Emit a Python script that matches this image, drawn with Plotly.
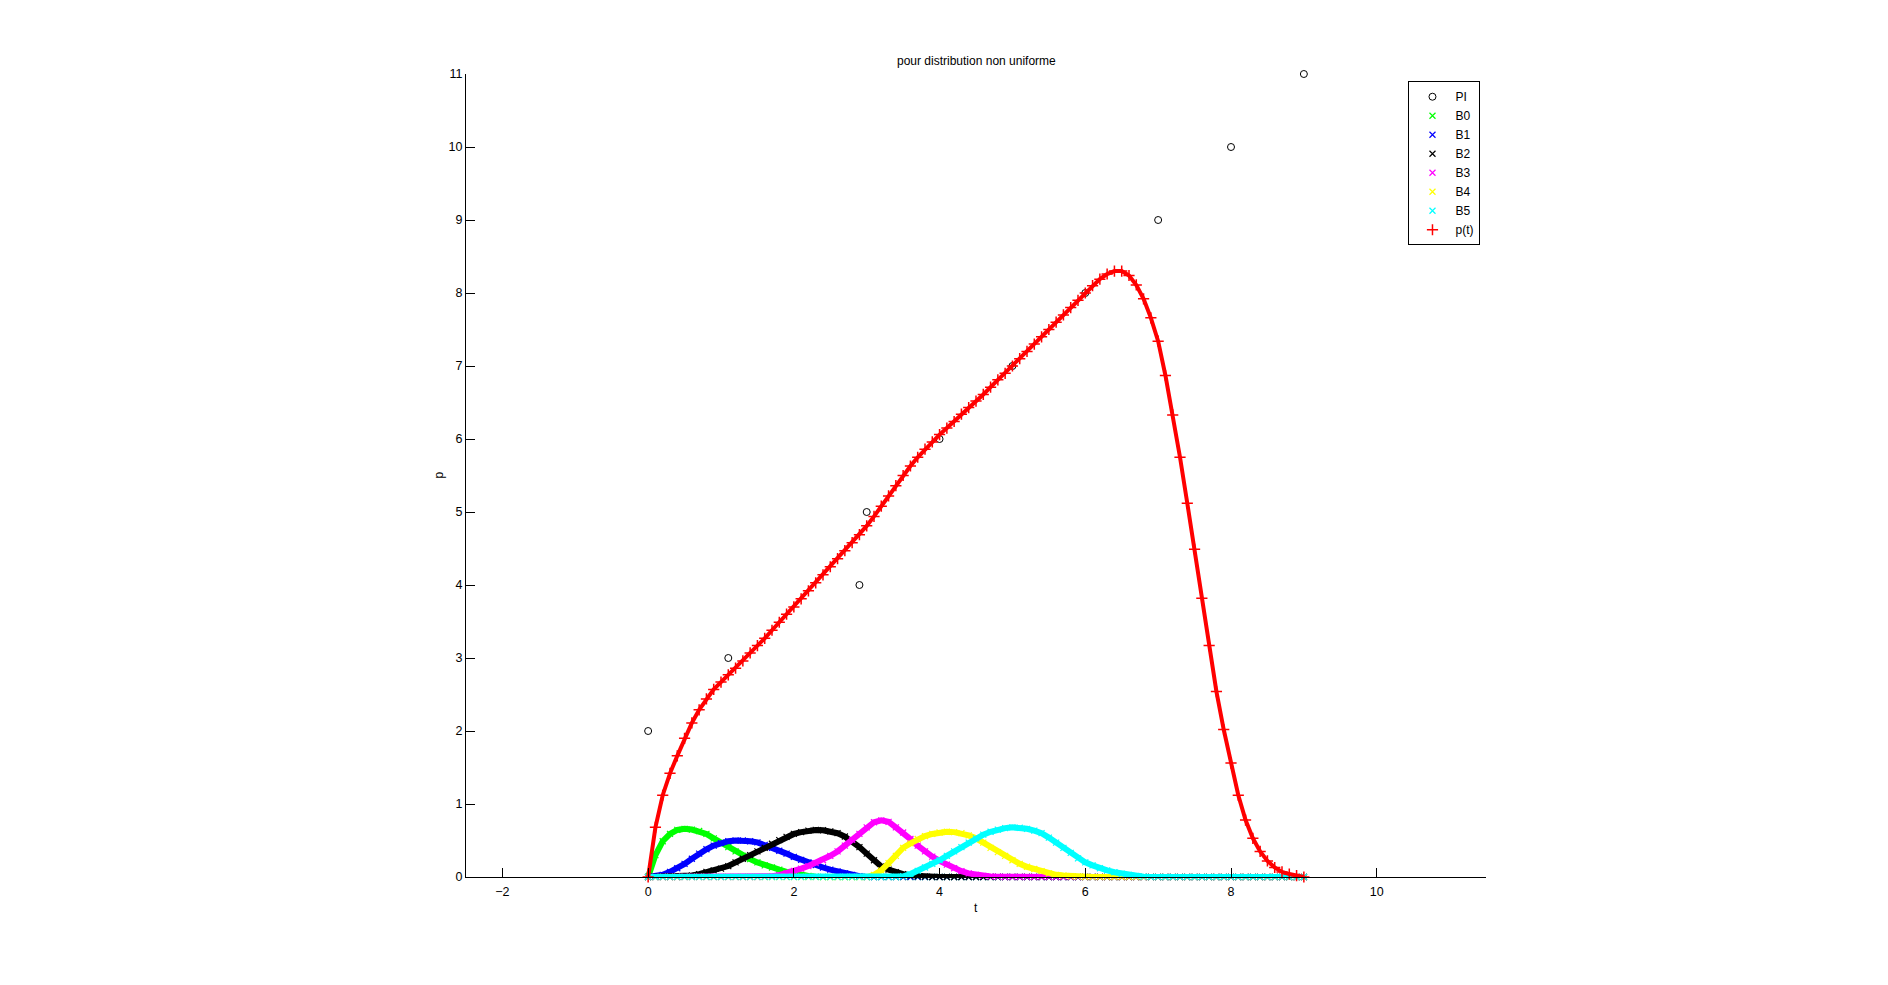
import plotly.graph_objects as go

# ---------------- data ----------------
T = [0.0, 0.1, 0.2, 0.3, 0.4, 0.5, 0.6, 0.7, 0.8, 0.9,
     1.0, 1.1, 1.2, 1.3, 1.4, 1.5, 1.6, 1.7, 1.8, 1.9,
     2.0, 2.1, 2.2, 2.3, 2.4, 2.5, 2.6, 2.7, 2.8, 2.9,
     3.0, 3.1, 3.2, 3.3, 3.4, 3.5, 3.6, 3.7, 3.8, 3.9,
     4.0, 4.1, 4.2, 4.3, 4.4, 4.5, 4.6, 4.7, 4.8, 4.9,
     5.0, 5.1, 5.2, 5.3, 5.4, 5.5, 5.6, 5.7, 5.8, 5.9,
     6.0, 6.1, 6.2, 6.3, 6.4, 6.5, 6.6, 6.7, 6.8, 6.9,
     7.0, 7.1, 7.2, 7.3, 7.4, 7.5, 7.6, 7.7, 7.8, 7.9,
     8.0, 8.1, 8.2, 8.3, 8.4, 8.5, 8.6, 8.7, 8.8, 8.9,
     9.0]

PI_x = [0, 1.1, 2.9, 3, 4, 5, 6, 7, 8, 9]
PI_y = [2, 3, 4, 5, 6, 7, 8, 9, 10, 11]

B0 = [0.00, 0.30, 0.49, 0.59, 0.645, 0.66, 0.65, 0.63, 0.59, 0.53,
      0.47, 0.41, 0.35, 0.29, 0.245, 0.20, 0.16, 0.13, 0.10, 0.07,
      0.045, 0.03, 0.015, 0.005, 0, 0, 0, 0, 0, 0,
      0, 0, 0, 0, 0, 0, 0, 0, 0, 0,
      0, 0, 0, 0, 0, 0, 0, 0, 0, 0,
      0, 0, 0, 0, 0, 0, 0, 0, 0, 0,
      0, 0, 0, 0, 0, 0, 0, 0, 0, 0,
      0, 0, 0, 0, 0, 0, 0, 0, 0, 0,
      0, 0, 0, 0, 0, 0, 0, 0, 0, 0,
      0]

B1 = [0.00, 0.01, 0.03, 0.07, 0.12, 0.18, 0.25, 0.32, 0.38, 0.43,
      0.465, 0.49, 0.50, 0.50, 0.49, 0.475, 0.44, 0.40, 0.36, 0.32,
      0.275, 0.235, 0.20, 0.165, 0.13, 0.10, 0.075, 0.05, 0.03, 0.01,
      0, 0, 0, 0, 0, 0, 0, 0, 0, 0,
      0, 0, 0, 0, 0, 0, 0, 0, 0, 0,
      0, 0, 0, 0, 0, 0, 0, 0, 0, 0,
      0, 0, 0, 0, 0, 0, 0, 0, 0, 0,
      0, 0, 0, 0, 0, 0, 0, 0, 0, 0,
      0, 0, 0, 0, 0, 0, 0, 0, 0, 0,
      0]

B2 = [0, 0, 0, 0, 0, 0.005, 0.02, 0.04, 0.07, 0.09,
      0.115, 0.15, 0.20, 0.25, 0.30, 0.35, 0.40, 0.455, 0.505, 0.55,
      0.59, 0.615, 0.635, 0.645, 0.64, 0.625, 0.60, 0.555, 0.49, 0.41,
      0.32, 0.23, 0.145, 0.10, 0.065, 0.04, 0.02, 0.01, 0.005, 0,
      0, 0, 0, 0, 0, 0, 0, 0, 0, 0,
      0, 0, 0, 0, 0, 0, 0, 0, 0, 0,
      0, 0, 0, 0, 0, 0, 0, 0, 0, 0,
      0, 0, 0, 0, 0, 0, 0, 0, 0, 0,
      0, 0, 0, 0, 0, 0, 0, 0, 0, 0,
      0]

B3 = [0, 0, 0, 0, 0, 0, 0, 0, 0, 0,
      0, 0, 0, 0, 0, 0, 0.003, 0.01, 0.025, 0.05,
      0.085, 0.115, 0.15, 0.19, 0.23, 0.29, 0.35, 0.43, 0.51, 0.59,
      0.68, 0.75, 0.775, 0.755, 0.68, 0.61, 0.52, 0.43, 0.35, 0.28,
      0.22, 0.17, 0.12, 0.08, 0.05, 0.03, 0.015, 0.007, 0.003, 0,
      0, 0, 0, 0, 0, 0, 0, 0, 0, 0,
      0, 0, 0, 0, 0, 0, 0, 0, 0, 0,
      0, 0, 0, 0, 0, 0, 0, 0, 0, 0,
      0, 0, 0, 0, 0, 0, 0, 0, 0, 0,
      0]

B4 = [0, 0, 0, 0, 0, 0, 0, 0, 0, 0,
      0, 0, 0, 0, 0, 0, 0, 0, 0, 0,
      0, 0, 0, 0, 0, 0, 0, 0, 0, 0,
      0, 0.03, 0.09, 0.19, 0.29, 0.40, 0.46, 0.52, 0.56, 0.59,
      0.61, 0.62, 0.615, 0.60, 0.57, 0.53, 0.47, 0.40, 0.34, 0.29,
      0.23, 0.18, 0.14, 0.11, 0.08, 0.05, 0.03, 0.02, 0.01, 0.005,
      0, 0, 0, 0, 0, 0, 0, 0, 0, 0,
      0, 0, 0, 0, 0, 0, 0, 0, 0, 0,
      0, 0, 0, 0, 0, 0, 0, 0, 0, 0,
      0]

B5 = [0, 0, 0, 0, 0, 0, 0, 0, 0, 0,
      0, 0, 0, 0, 0, 0, 0, 0, 0, 0,
      0, 0, 0, 0, 0, 0, 0, 0, 0, 0,
      0, 0, 0, 0, 0, 0.01, 0.04, 0.085, 0.13, 0.18,
      0.23, 0.29, 0.35, 0.41, 0.47, 0.53, 0.58, 0.62, 0.65, 0.67,
      0.68, 0.675, 0.66, 0.635, 0.60, 0.54, 0.47, 0.40, 0.33, 0.255,
      0.20, 0.16, 0.12, 0.09, 0.065, 0.045, 0.03, 0.015, 0.005, 0,
      0, 0, 0, 0, 0, 0, 0, 0, 0, 0,
      0, 0, 0, 0, 0, 0, 0, 0, 0, 0,
      0]

P = [0.00, 0.68, 1.12, 1.42, 1.66, 1.90, 2.11, 2.29, 2.44, 2.57,
     2.67, 2.77, 2.86, 2.96, 3.07, 3.17, 3.27, 3.38, 3.49, 3.60,
     3.70, 3.81, 3.92, 4.03, 4.14, 4.25, 4.36, 4.47, 4.58, 4.69,
     4.81, 4.94, 5.08, 5.22, 5.36, 5.50, 5.63, 5.75, 5.86, 5.96,
     6.06, 6.15, 6.24, 6.34, 6.43, 6.52, 6.61, 6.71, 6.81, 6.90,
     7.00, 7.10, 7.20, 7.30, 7.40, 7.50, 7.60, 7.70, 7.80, 7.90,
     8.00, 8.10, 8.19, 8.26, 8.30, 8.30, 8.24, 8.11, 7.92, 7.66,
     7.34, 6.87, 6.33, 5.75, 5.12, 4.49, 3.82, 3.17, 2.54, 2.02,
     1.56, 1.12, 0.78, 0.53, 0.35, 0.22, 0.13, 0.07, 0.04, 0.02,
     0.00]

X_TICKS = [-2, 0, 2, 4, 6, 8, 10]
Y_TICKS = [0, 1, 2, 3, 4, 5, 6, 7, 8, 9, 10, 11]
TITLE = "pour distribution non uniforme"

basis = [("B0", B0, "#00ff00"), ("B1", B1, "#0000ff"), ("B2", B2, "#000000"),
         ("B3", B3, "#ff00ff"), ("B4", B4, "#ffff00"), ("B5", B5, "#00ffff")]

FONT = "Liberation Sans, Arial, Helvetica, sans-serif"

fig = go.Figure()

fig.add_trace(go.Scatter(
    x=PI_x, y=PI_y, mode="markers", name="PI", cliponaxis=False,
    marker=dict(symbol="circle-open", size=7, color="black", line=dict(width=1, color="black")),
    hoverinfo="x+y"))

for name, vals, col in basis:
    fig.add_trace(go.Scatter(
        x=T, y=vals, mode="lines", line=dict(color=col, width=6), cliponaxis=False,
        showlegend=False, legendgroup=name, hoverinfo="skip"))
    fig.add_trace(go.Scatter(
        x=T, y=vals, mode="markers", name=name, legendgroup=name, cliponaxis=False,
        marker=dict(symbol="x-thin", size=6, color=col, line=dict(width=1.2, color=col))))

fig.add_trace(go.Scatter(
    x=T, y=P, mode="lines", line=dict(color="#ff0000", width=4), cliponaxis=False,
    showlegend=False, legendgroup="p", hoverinfo="skip"))
fig.add_trace(go.Scatter(
    x=T, y=P, mode="markers", name="p(t)", legendgroup="p", cliponaxis=False,
    marker=dict(symbol="cross-thin", size=8, color="#ff0000", line=dict(width=1.5, color="#ff0000"))))

# the page body adds an 8 px offset; margins compensate so the plot area
# lands at x 466..1486, y 74..877 in the window
fig.update_layout(
    width=1888, height=985,
    margin=dict(l=458, r=410, t=66, b=116, autoexpand=False),
    paper_bgcolor="white", plot_bgcolor="white",
    font=dict(family=FONT, size=12, color="black"),
    showlegend=True,
    legend=dict(x=0.924, y=0.991, xanchor="left", yanchor="top",
                bgcolor="white", bordercolor="black", borderwidth=1,
                itemwidth=36,
                font=dict(family=FONT, size=12, color="black"),
                tracegroupgap=0, itemclick=False, itemdoubleclick=False),
    xaxis=dict(range=[-2.5, 11.5], tickvals=X_TICKS, ticks="inside", ticklen=9,
               tickcolor="black", showline=True, linecolor="black", linewidth=1,
               showgrid=False, zeroline=False, mirror=False, ticklabelstandoff=3,
               tickfont=dict(family=FONT, size=12.5, color="black")),
    yaxis=dict(range=[0, 11], tickvals=Y_TICKS, ticks="inside", ticklen=9,
               tickcolor="black", showline=True, linecolor="black", linewidth=1,
               showgrid=False, zeroline=False, mirror=False,
               tickfont=dict(family=FONT, size=12.5, color="black")),
    annotations=[
        dict(text=TITLE, xref="paper", yref="paper", x=0.5, y=1, yshift=13,
             xanchor="center", yanchor="middle", showarrow=False,
             font=dict(family=FONT, size=12, color="black")),
        dict(text="t", xref="paper", yref="paper", x=0.5, y=0, yshift=-31,
             xanchor="center", yanchor="middle", showarrow=False,
             font=dict(family=FONT, size=12, color="black")),
        dict(text="p", xref="paper", yref="paper", x=0, y=0.5, xshift=-28,
             xanchor="center", yanchor="middle", showarrow=False, textangle=-90,
             font=dict(family=FONT, size=12, color="black")),
    ],
)

fig.write_html("out.html")
